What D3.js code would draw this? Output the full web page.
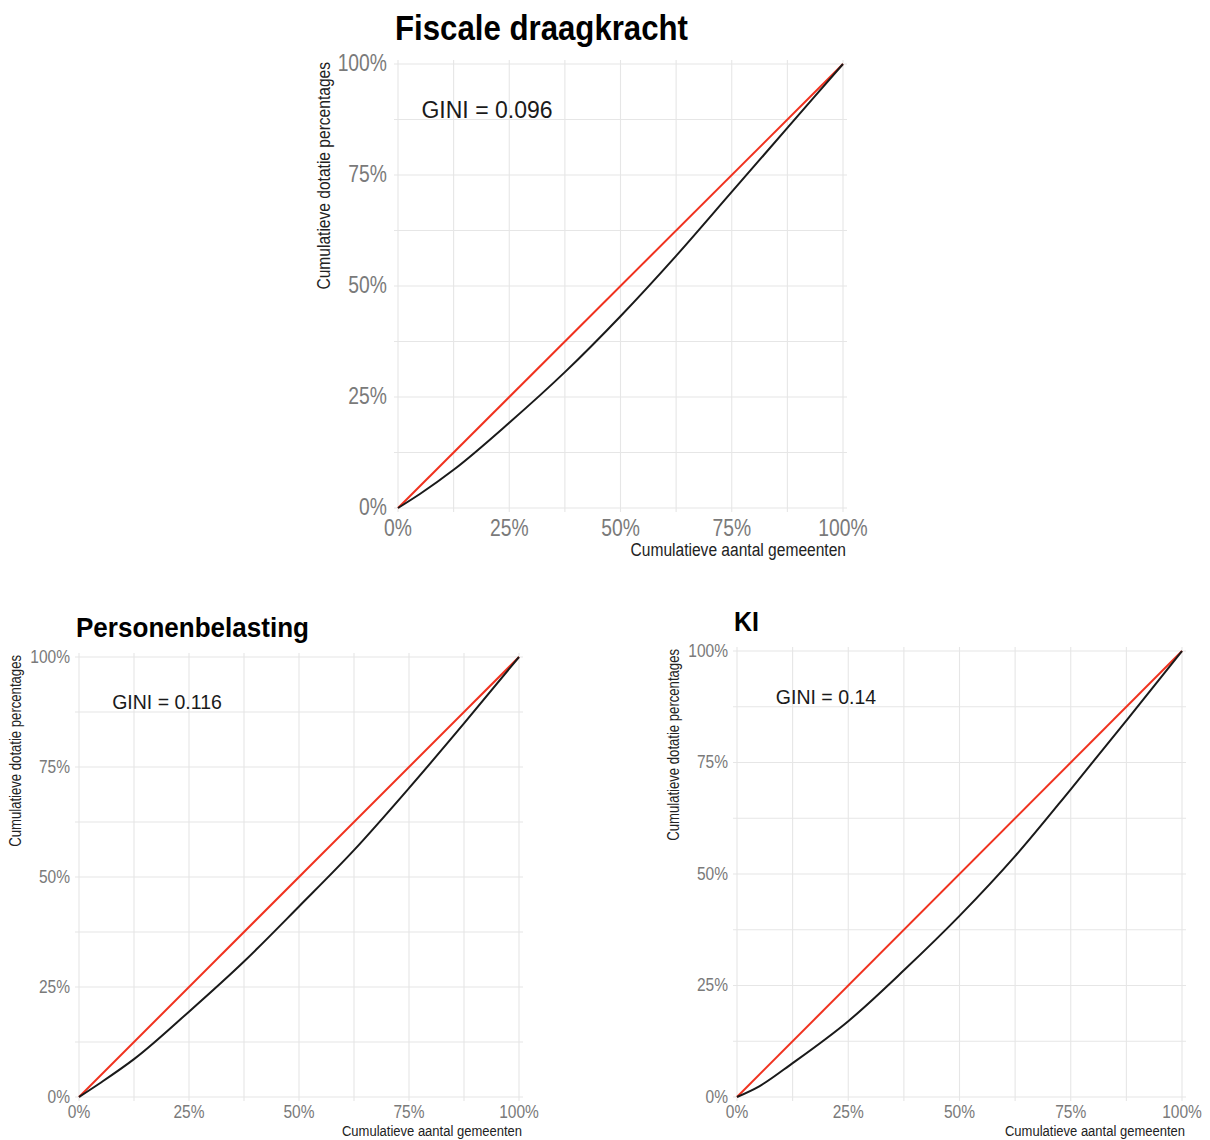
<!DOCTYPE html>
<html>
<head>
<meta charset="utf-8">
<script src="https://cdn.jsdelivr.net/npm/d3@7"></script>
<style>
  body { margin: 0; background: #fff; }
  text { font-family: "Liberation Sans", Arial, sans-serif; }
</style>
</head>
<body>
<div class="canvas"></div>
<script>
// cumulative share of municipalities (x) and of the dotation (y), in %
const lorenzX = [0, 5, 12.5, 25, 37.5, 50, 62.5, 75, 87.5, 100];
const fiscaleY = [0, 3.2, 8.6, 19.2, 30.6, 43.2, 56.8, 71.2, 85.6, 100];
const personenY = [0, 3.3, 8.6, 19.4, 30.8, 43.3, 56.1, 70.2, 84.9, 100];
const kiY = [0, 2.4, 7.6, 17.0, 28.4, 40.6, 54.0, 69.0, 84.4, 100];

const tickValues = [0, 25, 50, 75, 100];
const tickLabels = ["0%", "25%", "50%", "75%", "100%"];
const gridValues = [0, 12.5, 25, 37.5, 50, 62.5, 75, 87.5, 100];

const panelTitles = ["Fiscale draagkracht", "Personenbelasting", "KI"];
const giniLabels = ["GINI = 0.096", "GINI = 0.116", "GINI = 0.14"];
const xTitle = "Cumulatieve aantal gemeenten";
const yTitle = "Cumulatieve dotatie percentages";

const svg = d3.select(".canvas").append("svg")
  .attr("width", 1210).attr("height", 1140);
svg.append("rect").attr("width", 1210).attr("height", 1140).attr("fill", "#fff");

// layout of the three panels
const panels = [
  { y: fiscaleY, x0: 398, x1: 843, top: 64, bottom: 508, big: true, titleLen: 293, titleY: 40 },
  { y: personenY, x0: 79, x1: 519, top: 657, bottom: 1097, big: false, titleLen: 233, titleY: 637 },
  { y: kiY, x0: 737, x1: 1182, top: 651, bottom: 1097, big: false, titleLen: 25, titleY: 631 }
];

// condensed text: translate then squeeze horizontally
let narrow = (g, x, y, str, size, sx) =>
  g.append("text")
    .attr("transform", `translate(${x},${y}) scale(${sx},1)`)
    .style("font-size", size + "px")
    .text(str);

panels.forEach((p, i) => {
  const x = d3.scaleLinear().domain([0, 100]).range([p.x0, p.x1]);
  const y = d3.scaleLinear().domain([0, 100]).range([p.bottom, p.top]);
  const g = svg.append("g");
  const pad = 4;

  // grid
  g.selectAll(".vgrid").data(gridValues).join("line")
    .attr("x1", (d) => x(d)).attr("x2", (d) => x(d))
    .attr("y1", p.top - pad).attr("y2", p.bottom + pad)
    .attr("stroke", "#e6e6e6").attr("stroke-width", 1.1);
  g.selectAll(".hgrid").data(gridValues).join("line")
    .attr("y1", (d) => y(d)).attr("y2", (d) => y(d))
    .attr("x1", p.x0 - pad).attr("x2", p.x1 + pad)
    .attr("stroke", "#e6e6e6").attr("stroke-width", 1.1);

  const tickSize = p.big ? 23 : 18.5;
  const sx = 0.84;

  // y tick labels
  tickValues.forEach((v, k) => {
    narrow(g, p.x0 - (p.big ? 11 : 9), y(v) + 1, tickLabels[k], tickSize, sx)
      .attr("text-anchor", "end").attr("dominant-baseline", "middle")
      .attr("fill", "#7a7a7a");
  });
  // x tick labels
  tickValues.forEach((v, k) => {
    narrow(g, x(v), p.bottom + (p.big ? 22 : 16), tickLabels[k], tickSize, sx)
      .attr("text-anchor", "middle").attr("dominant-baseline", "middle")
      .attr("fill", "#7a7a7a");
  });

  // axis titles
  narrow(g, p.x1 + 3, p.bottom + (p.big ? 43 : 34.5), xTitle, p.big ? 19 : 15.5, p.big ? 0.82 : 0.84)
    .attr("text-anchor", "end").attr("dominant-baseline", "middle")
    .attr("fill", "#222");
  g.append("text")
    .attr("transform", `translate(${p.x0 - (p.big ? 73 : 62)},${p.top - 2}) rotate(-90) scale(0.82,1)`)
    .attr("text-anchor", "end").attr("dominant-baseline", "middle")
    .style("font-size", (p.big ? 19 : 16) + "px").attr("fill", "#222")
    .text(yTitle);

  // panel title
  g.append("text")
    .attr("x", p.x0 - 3).attr("y", p.titleY)
    .attr("textLength", p.titleLen).attr("lengthAdjust", "spacingAndGlyphs")
    .style("font-size", (p.big ? 35 : 28) + "px").style("font-weight", 700)
    .attr("fill", "#000")
    .text(panelTitles[i]);

  // equality line
  const line = d3.line().x((d) => x(d[0])).y((d) => y(d[1]));
  g.append("path")
    .attr("d", line([[0, 0], [100, 100]]))
    .attr("fill", "none").attr("stroke", "#f0321f").attr("stroke-width", 2);

  // Lorenz curve
  const curve = d3.line().curve(d3.curveMonotoneX)
    .x((d) => x(d[0])).y((d) => y(d[1]));
  g.append("path")
    .attr("d", curve(lorenzX.map((v, k) => [v, p.y[k]])))
    .attr("fill", "none").attr("stroke", "#1a1a1a").attr("stroke-width", 2);

  // GINI annotation
  g.append("text")
    .attr("x", x(20)).attr("y", y(89.3))
    .attr("text-anchor", "middle").attr("dominant-baseline", "middle")
    .style("font-size", (p.big ? 23 : 19.5) + "px").attr("fill", "#1a1a1a")
    .text(giniLabels[i]);
});
</script>
</body>
</html>
